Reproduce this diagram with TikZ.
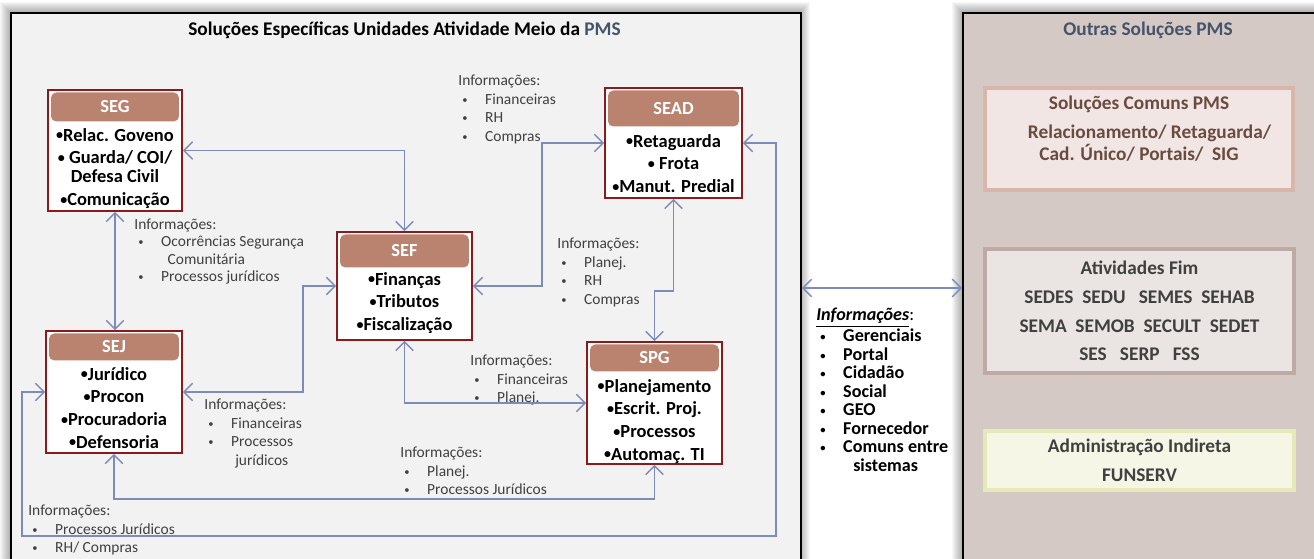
\documentclass[tikz,border=0pt]{standalone}
\usepackage{fontspec}
\setmainfont{Carlito}
\usepackage{xcolor}
\usepackage{tikz}
\usetikzlibrary{arrows.meta,positioning,calc}

\definecolor{boxred}{RGB}{140,26,26}
\definecolor{headbrown}{RGB}{185,131,112}
\definecolor{linkblue}{RGB}{125,139,186}
\definecolor{panelgray}{RGB}{242,242,242}
\definecolor{panelrose}{RGB}{213,201,197}
\definecolor{navy}{RGB}{68,84,106}
\definecolor{infotext}{RGB}{64,64,64}
\definecolor{comunsfill}{RGB}{242,230,228}
\definecolor{comunsdraw}{RGB}{217,182,170}
\definecolor{comunstext}{RGB}{105,75,65}
\definecolor{fimfill}{RGB}{234,228,226}
\definecolor{fimdraw}{RGB}{190,170,164}
\definecolor{indfill}{RGB}{245,246,230}
\definecolor{inddraw}{RGB}{229,232,183}

\newcommand{\blt}{\hspace*{2.3pt}\makebox[13pt][l]{\raisebox{0.5pt}{\fontsize{6}{6}\selectfont\textbullet}}}
\newcommand{\itm}{\raisebox{1pt}{\fontsize{8}{8}\selectfont\textbullet}}

\begin{document}
\begin{tikzpicture}[x=0.02cm, y=-0.02cm, >={Straight Barb[length=5pt,width=10pt]},
  panel/.style={rectangle, draw=black, line width=1.1pt, inner sep=0pt, anchor=north west},
  secbox/.style={rectangle, draw=boxred, line width=1pt, fill=white, inner sep=0pt},
  sechead/.style={rectangle, rounded corners=3pt, fill=headbrown, text=white, font=\bfseries\fontsize{10.5}{12}\selectfont, anchor=north, inner sep=0pt},
  items/.style={align=center, font=\bfseries\fontsize{10.5}{13}\selectfont, inner sep=0pt, text=black},
  info/.style={align=left, anchor=north west, inner sep=0pt, text=infotext, font=\fontsize{8.8}{10.6}\selectfont},
  infolink/.style={draw=linkblue, line width=0.8pt, <->},
  solbox/.style={rectangle, line width=2.2pt, inner sep=0pt, align=center, text=infotext, font=\bfseries\fontsize{11}{16.4}\selectfont}]

  \clip (0,0) rectangle (1314,558);
  \useasboundingbox (0,0) rectangle (1314,558);
  \fill[white] (0,0) rectangle (1314,558);

  % halo round the two panels
  \foreach \k in {1,...,10} {
    \fill[black, opacity=0.03] (10-\k,12-\k) rectangle (800+\k,600);
    \fill[black, opacity=0.03] (962-\k,12-\k) rectangle (1330,600);
  }

  % panels
  \node[panel, fill=panelgray, minimum width=15.8cm, minimum height=11.36cm] (meio) at (10,12) {};
  \node[panel, fill=panelrose, minimum width=7.36cm, minimum height=11.36cm] (outras) at (962,12) {};

  \node[font=\bfseries\fontsize{11}{12}\selectfont] (titulo) at (404.5,30) {Soluções Específicas Unidades Atividade Meio da \textcolor{navy}{PMS}};
  \node[font=\bfseries\fontsize{11}{12}\selectfont, text=navy] (titulo-outras) at (1148,30) {Outras Soluções PMS};

  % secretarias
  \node[secbox, minimum width=2.68cm, minimum height=2.42cm] (seg) at (115,150.5) {};
  \node[sechead, minimum width=2.56cm, minimum height=0.58cm] (seg-h) at ([yshift=-0.06cm]seg.north) {SEG};
  \node[items, below=0.12cm of seg-h] (seg-i) {\itm Relac. Goveno\\ \itm\ Guarda/ COI/\\[-2.2pt] Defesa Civil\\ \itm Comunicação};

  \node[secbox, minimum width=2.70cm, minimum height=2.16cm] (sef) at (404.5,286) {};
  \node[sechead, minimum width=2.58cm, minimum height=0.66cm] (sef-h) at ([yshift=-0.06cm]sef.north) {SEF};
  \node[items, below=0.08cm of sef-h] (sef-i) {\itm Finanças\\ \itm Tributos\\ \itm Fiscalização};

  \node[secbox, minimum width=2.74cm, minimum height=2.20cm] (sead) at (673.5,143) {};
  \node[sechead, minimum width=2.62cm, minimum height=0.72cm] (sead-h) at ([yshift=-0.06cm]sead.north) {SEAD};
  \node[items, below=0.14cm of sead-h] (sead-i) {\itm Retaguarda\\ \itm\ Frota\\ \itm Manut. Predial};

  \node[secbox, minimum width=2.72cm, minimum height=2.44cm] (sej) at (114,392) {};
  \node[sechead, minimum width=2.60cm, minimum height=0.54cm] (sej-h) at ([yshift=-0.06cm]sej.north) {SEJ};
  \node[items, below=0.12cm of sej-h] (sej-i) {\itm Jurídico\\ \itm Procon\\ \itm Procuradoria\\ \itm Defensoria};

  \node[secbox, minimum width=2.70cm, minimum height=2.44cm] (spg) at (654.5,403) {};
  \node[sechead, minimum width=2.58cm, minimum height=0.54cm] (spg-h) at ([yshift=-0.06cm]spg.north) {SPG};
  \node[items, below=0.14cm of spg-h] (spg-i) {\itm Planejamento\\ \itm Escrit. Proj.\\ \itm Processos\\ \itm Automaç. TI};

  % informacoes trocadas
  \node[info] (info-sead) at (458,74.5) {Informações:\\ \blt Financeiras\\ \blt RH\\ \blt Compras};
  \node[info, font=\fontsize{8.8}{9.9}\selectfont] (info-seg) at (134,218.5) {Informações:\\ \blt Ocorrências Segurança\\ \hspace*{19pt}Comunitária\\ \blt Processos jurídicos};
  \node[info] (info-spg) at (557,237.5) {Informações:\\ \blt Planej.\\ \blt RH\\ \blt Compras};
  \node[info] (info-sej) at (204,398.5) {Informações:\\ \blt Financeiras\\ \blt Processos\\ \hspace*{17.6pt}jurídicos};
  \node[info] (info-sef) at (470,354.5) {Informações:\\ \blt Financeiras\\ \blt Planej.};
  \node[info] (info-proc) at (400,446.5) {Informações:\\ \blt Planej.\\ \blt Processos Jurídicos};
  \node[info] (info-rh) at (28,504.5) {Informações:\\ \blt Processos Jurídicos\\ \blt RH/ Compras};
  \node[info, text=black, font=\bfseries\fontsize{10.3}{10.5}\selectfont] (info-pms) at (816,308)
    {\underline{\textit{Informações}}\textmd{:}\\ \blt Gerenciais\\ \blt Portal\\ \blt Cidadão\\ \blt Social\\ \blt GEO\\ \blt Fornecedor\\ \blt Comuns entre\\ \hspace*{21pt}sistemas};

  % conexoes
  \draw[infolink] (seg.east) -| (sef.north);
  \draw[infolink] (seg.south) -- (seg.south |- sej.north);
  \draw[infolink] (sef.east) -- ++(69,0) |- (sead.west);
  \draw[infolink] (sej.east) -- ++(120,0) |- (sef.west);
  \draw[infolink] (sef.south) |- (spg.west);
  \draw[infolink] (sead.south) -- ++(0,92) -| (spg.north);
  \draw[infolink] (sej.south) -- ++(0,45) -| (spg.south);
  \coordinate (volta) at (776,536);
  \draw[infolink] (sej.west) -- ++(-23,0) |- (volta) |- (sead.east);
  \draw[infolink] (meio.east |- 0,288) -- (outras.west |- 0,288);

  % outras solucoes
  \node[solbox, draw=comunsdraw, fill=comunsfill, minimum width=6.16cm, minimum height=2.04cm] (comuns) at (1139,139) {};
  \node[solbox, text=comunstext, font=\bfseries\fontsize{11}{12.5}\selectfont, below=0.15cm of comuns.north] (comuns-t)
    {Soluções Comuns PMS\\[4pt] \hspace*{12pt}Relacionamento/ Retaguarda/\\ Cad. Único/ Portais/\ \ SIG};
  \node[solbox, draw=fimdraw, fill=fimfill, minimum width=6.18cm, minimum height=2.48cm] (fim) at (1139.5,311)
    {Atividades Fim\\ SEDES\ \ SEDU\ \ \ SEMES\ \ SEHAB\\ SEMA\ \ SEMOB\ \ SECULT\ \ SEDET\\ SES\ \ \ SERP\ \ \ FSS};
  \node[solbox, draw=inddraw, fill=indfill, minimum width=6.18cm, minimum height=1.18cm] (indireta) at (1139.5,460.5)
    {Administração Indireta\\ FUNSERV};
\end{tikzpicture}
\end{document}
